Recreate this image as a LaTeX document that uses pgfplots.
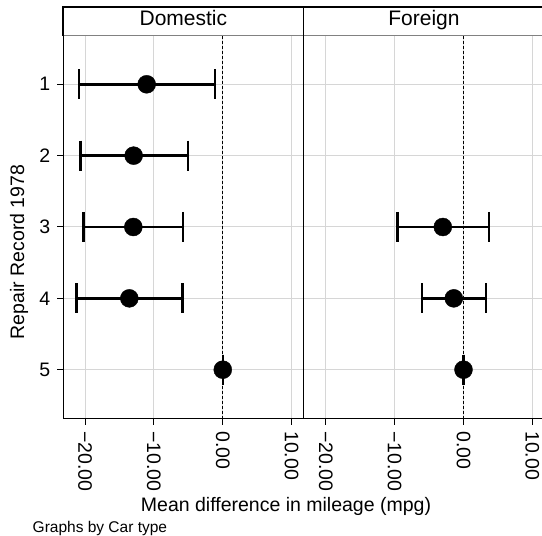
\documentclass[border=0pt]{standalone}
\usepackage{pgfplots}
\usepackage{pgfplotstable}
\pgfplotsset{compat=1.18}
\usepackage{fontspec}
\setmainfont{Liberation Sans}
\definecolor{gridgray}{RGB}{214,214,214}
\pgfplotstableread{
y x lo hi em ep
1 -11.05 -20.89 -1.12 9.84 9.93
2 -12.94 -20.69 -5.04 7.75 7.90
3 -12.99 -20.26 -5.77 7.27 7.22
4 -13.57 -21.27 -5.82 7.70 7.75
5 0 0 0 0 0
}\domestic
\pgfplotstableread{
y x lo hi em ep
3 -3.00 -9.59 3.68 6.59 6.68
4 -1.41 -6.01 3.25 4.60 4.66
5 0 0 0 0 0
}\foreign
\begin{document}
\fontsize{19.5bp}{23bp}\selectfont
\begin{tikzpicture}[x=1bp,y=1bp]
\useasboundingbox (0,0) rectangle (542,536);
\pgfplotsset{
 panel/.style={
  scale only axis, width=240.7bp, height=382.5bp,
  xmin=-23.2, xmax=11.75, ymin=0.323, ymax=5.684, y dir=reverse,
  axis x line*=bottom, axis y line*=left,
  axis line style={black, line width=1bp},
  xtick={-20,-10,0,10}, xticklabels={−20.00,−10.00,0.00,10.00},
  xticklabel style={rotate=-90, anchor=west},
  ytick={1,2,3,4,5},
  tick align=outside, major tick length=6bp,
  tick style={black, line width=1bp},
  grid=major, major grid style={gridgray, line width=1bp},
 },
 bars/.style={only marks, mark=none, black,
  error bars/.cd, x dir=both, x explicit, error mark=none,
  error bar style={line width=2.5bp, black}},
 caps/.style={only marks, mark=|, mark size=15bp, black,
  mark options={line width=2.5bp, black}},
 dots/.style={only marks, mark=*, mark size=9bp, black,
  mark options={fill=black, draw=black}},
}
\begin{axis}[panel, at={(63bp,117.5bp)}, anchor=south west,
  yticklabels={1,2,3,4,5}]
\addplot[black, dash pattern=on 3bp off 2bp, line width=1bp] coordinates {(0,0.323) (0,5.684)};
\addplot[bars] table[x=x, y=y, x error plus=ep, x error minus=em] {\domestic};
\addplot[caps] table[x=lo, y=y] {\domestic};
\addplot[caps] table[x=hi, y=y] {\domestic};
\addplot[dots] table[x=x, y=y] {\domestic};
\end{axis}
\begin{axis}[panel, at={(303.7bp,117.5bp)}, anchor=south west,
  yticklabels={}, ytick style={draw=none}]
\addplot[black, dash pattern=on 3bp off 2bp, line width=1bp] coordinates {(0,0.323) (0,5.684)};
\addplot[bars] table[x=x, y=y, x error plus=ep, x error minus=em] {\foreign};
\addplot[caps] table[x=lo, y=y] {\foreign};
\addplot[caps] table[x=hi, y=y] {\foreign};
\addplot[dots] table[x=x, y=y] {\foreign};
\end{axis}
% title strip
\draw[gridgray!60!black, line width=1bp] (63,500) -- (542,500);
\draw[black, line width=1.3bp] (63,500) -- (63,529) -- (542,529);
\draw[black, line width=1.3bp] (303.7,117.5) -- (303.7,529);
\node[anchor=base, inner sep=0pt, font=\fontsize{21bp}{24bp}\selectfont] at (183.4,510) {Domestic};
\node[anchor=base, inner sep=0pt, font=\fontsize{21bp}{24bp}\selectfont] at (424,510) {Foreign};
% labels
\node[rotate=90, anchor=base, inner sep=0pt] at (24,284) {Repair Record 1978};
\node[anchor=base, inner sep=0pt] at (286,24.3) {Mean difference in mileage (mpg)};
\node[anchor=base west, inner sep=0pt, font=\fontsize{15.5bp}{18bp}\selectfont] at (32.5,3.3) {Graphs by Car type};
\end{tikzpicture}
\end{document}
